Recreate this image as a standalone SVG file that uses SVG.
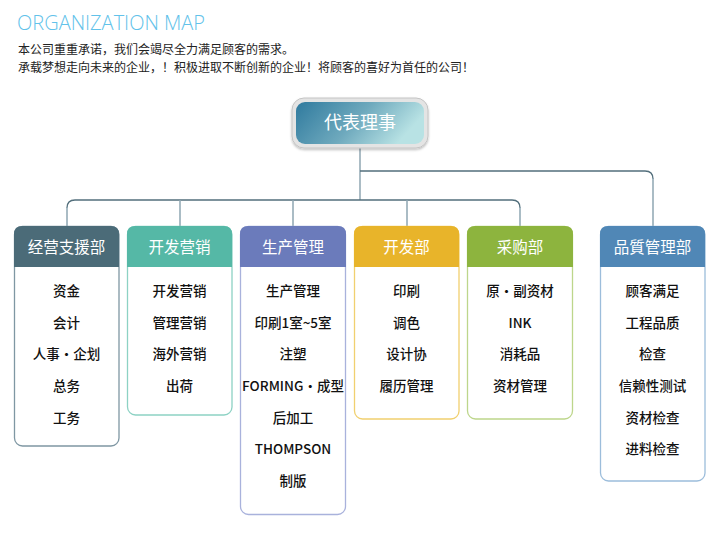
<svg xmlns="http://www.w3.org/2000/svg" width="725" height="534" viewBox="0 0 725 534">
<defs>
<linearGradient id="topg" x1="0" y1="0" x2="1" y2="0.3">
<stop offset="0" stop-color="#2f7a9e"/>
<stop offset="0.55" stop-color="#6ea9bd"/>
<stop offset="1" stop-color="#b8e2e4"/>
</linearGradient>
<filter id="sh" x="-10%" y="-10%" width="120%" height="130%">
<feDropShadow dx="0" dy="1.5" stdDeviation="1.2" flood-color="#000" flood-opacity="0.25"/>
</filter>
</defs>
<style>
.t{font-family:"Noto Sans CJK SC","Noto Sans",sans-serif;}
.title{font-family:"Open Sans","Noto Sans",sans-serif;font-weight:300;font-size:20px;fill:#62c2ea;}
.sub{font-size:12px;fill:#222;}
.hd{font-size:15.5px;fill:#fff;text-anchor:middle;}
.it{font-size:13.5px;fill:#111;text-anchor:middle;font-weight:500;}
.hl{fill:none;stroke:#536f7c;stroke-width:1.3;}
.vl{fill:none;stroke:#8fa6b2;stroke-width:1.5;}
</style>
<text class="title" x="17" y="30">ORGANIZATION MAP</text>
<text class="t sub" x="18" y="54">本公司重重承诺，我们会竭尽全力满足顾客的需求。</text>
<text class="t sub" x="18" y="72">承载梦想走向未来的企业，！积极进取不断创新的企业！将顾客的喜好为首任的公司！</text>

<g id="connectors">
<path class="vl" d="M360,148 V200"/>
<path class="hl" d="M67,208 Q67,200 75,200 H512 Q520,200 520,208"/>
<path class="hl" d="M360,171 H645 Q653,171 653,179"/>
<path class="vl" d="M67,207 V226 M180,200 V226 M293,200 V226 M407,200 V226 M520,207 V226 M653,178 V226"/>
</g>

<g id="top">
<rect x="292" y="98" width="136" height="50" rx="12" fill="#e4e4e4" stroke="#c4c4c4" stroke-width="1" filter="url(#sh)"/>
<rect x="296" y="102" width="128" height="42" rx="9" fill="url(#topg)"/>
<text class="t" x="360" y="129" font-size="18" fill="#fff" text-anchor="middle">代表理事</text>
</g>

<g id="d1">
<rect x="14.5" y="226.5" width="104.5" height="219.5" rx="8" fill="#fff" stroke="#7f97a3" stroke-width="1.3"/>
<path d="M14,267 V234 Q14,226 22,226 H111 Q119,226 119,234 V267 Z" fill="#4b6b78"/>
<text class="t hd" x="66.5" y="253">经营支援部</text>
<text class="t it" x="66.5" y="296">资金</text>
<text class="t it" x="66.5" y="328">会计</text>
<text class="t it" x="66.5" y="359">人事·企划</text>
<text class="t it" x="66.5" y="391">总务</text>
<text class="t it" x="66.5" y="423">工务</text>
</g>

<g id="d2">
<rect x="127.5" y="226.5" width="104.5" height="188.5" rx="8" fill="#fff" stroke="#8dd2c4" stroke-width="1.3"/>
<path d="M127,267 V234 Q127,226 135,226 H224 Q232,226 232,234 V267 Z" fill="#55b8a6"/>
<text class="t hd" x="179.5" y="253">开发营销</text>
<text class="t it" x="179.5" y="296">开发营销</text>
<text class="t it" x="179.5" y="328">管理营销</text>
<text class="t it" x="179.5" y="359">海外营销</text>
<text class="t it" x="179.5" y="391">出荷</text>
</g>

<g id="d3">
<rect x="240.5" y="226.5" width="105" height="288" rx="8" fill="#fff" stroke="#a9b2dc" stroke-width="1.3"/>
<path d="M240,267 V234 Q240,226 248,226 H338 Q346,226 346,234 V267 Z" fill="#6b7bbb"/>
<text class="t hd" x="293" y="253">生产管理</text>
<text class="t it" x="293" y="296">生产管理</text>
<text class="t it" x="293" y="328">印刷1室~5室</text>
<text class="t it" x="293" y="359">注塑</text>
<text class="t it" x="293" y="391">FORMING·成型</text>
<text class="t it" x="293" y="423">后加工</text>
<text class="t it" x="293" y="454">THOMPSON</text>
<text class="t it" x="293" y="486">制版</text>
</g>

<g id="d4">
<rect x="354.5" y="226.5" width="104.5" height="192.5" rx="8" fill="#fff" stroke="#f1d06f" stroke-width="1.3"/>
<path d="M354,267 V234 Q354,226 362,226 H451 Q459,226 459,234 V267 Z" fill="#e8b42a"/>
<text class="t hd" x="406.5" y="253">开发部</text>
<text class="t it" x="406.5" y="296">印刷</text>
<text class="t it" x="406.5" y="328">调色</text>
<text class="t it" x="406.5" y="359">设计协</text>
<text class="t it" x="406.5" y="391">履历管理</text>
</g>

<g id="d5">
<rect x="467.5" y="226.5" width="105" height="192.5" rx="8" fill="#fff" stroke="#bdd68b" stroke-width="1.3"/>
<path d="M467,267 V234 Q467,226 475,226 H565 Q573,226 573,234 V267 Z" fill="#8db43e"/>
<text class="t hd" x="520" y="253">采购部</text>
<text class="t it" x="520" y="296">原·副资材</text>
<text class="t it" x="520" y="328">INK</text>
<text class="t it" x="520" y="359">消耗品</text>
<text class="t it" x="520" y="391">资材管理</text>
</g>

<g id="d6">
<rect x="600.5" y="226.5" width="104.5" height="254.5" rx="8" fill="#fff" stroke="#9cbddb" stroke-width="1.3"/>
<path d="M600,267 V234 Q600,226 608,226 H697 Q705,226 705,234 V267 Z" fill="#5087b6"/>
<text class="t hd" x="652.5" y="253">品質管理部</text>
<text class="t it" x="652.5" y="296">顾客满足</text>
<text class="t it" x="652.5" y="328">工程品质</text>
<text class="t it" x="652.5" y="359">检查</text>
<text class="t it" x="652.5" y="391">信赖性测试</text>
<text class="t it" x="652.5" y="423">资材检查</text>
<text class="t it" x="652.5" y="454">进料检查</text>
</g>
</svg>
